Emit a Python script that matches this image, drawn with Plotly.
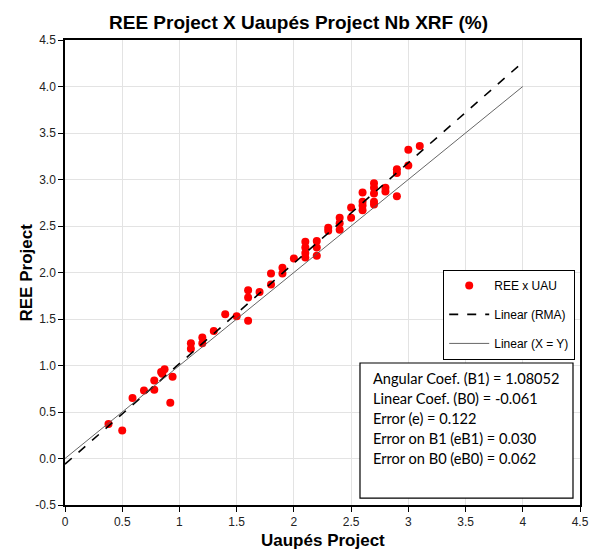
import plotly.graph_objects as go

# Nb XRF (%) — paired samples: Uaupés Project (x) vs REE Project (y)
uaupes = [0.38, 0.50, 0.59, 0.69, 0.78, 0.78, 0.84, 0.87, 0.85, 0.94, 0.92,
          1.10, 1.10, 1.20, 1.20, 1.30, 1.40, 1.50, 1.60, 1.60, 1.60, 1.70,
          1.80, 1.80, 1.90, 1.90, 2.00, 2.10, 2.10, 2.10, 2.10, 2.20, 2.20,
          2.20, 2.30, 2.30, 2.40, 2.40, 2.40, 2.50, 2.50, 2.60, 2.60, 2.60,
          2.60, 2.70, 2.70, 2.70, 2.70, 2.70, 2.80, 2.80, 2.90, 2.90, 2.90,
          3.00, 3.00, 3.10]
ree = [0.37, 0.30, 0.65, 0.73, 0.84, 0.74, 0.93, 0.96, 0.91, 0.88, 0.60,
       1.24, 1.18, 1.30, 1.24, 1.37, 1.55, 1.53, 1.81, 1.73, 1.48, 1.79,
       1.99, 1.87, 2.05, 1.99, 2.15, 2.33, 2.27, 2.21, 2.16, 2.34, 2.27,
       2.18, 2.48, 2.45, 2.59, 2.53, 2.46, 2.70, 2.59, 2.86, 2.76, 2.72,
       2.67, 2.96, 2.91, 2.85, 2.76, 2.73, 2.91, 2.87, 2.82, 3.11, 3.07,
       3.32, 3.15, 3.36]

# Reduced major axis fit statistics
b1 = 1.08052
b0 = -0.061
err_e = 0.122
err_b1 = 0.030
err_b0 = 0.062

line_x = [0, 4]
rma_y = [b0 + b1 * v for v in line_x]
xy_y = list(line_x)

x_ticks = [0, 0.5, 1, 1.5, 2, 2.5, 3, 3.5, 4, 4.5]
x_tick_text = ["0", "0.5", "1", "1.5", "2", "2.5", "3", "3.5", "4", "4.5"]
y_ticks = [-0.5, 0, 0.5, 1, 1.5, 2, 2.5, 3, 3.5, 4, 4.5]
y_tick_text = ["-0.5", "0.0", "0.5", "1.0", "1.5", "2.0", "2.5", "3.0", "3.5", "4.0", "4.5"]

stats_lines = [
    f"Angular Coef. (B1) = {b1:.5f}",
    f"Linear Coef. (B0) = {b0:.3f}",
    f"Error (e) = {err_e:.3f}",
    f"Error on B1 (eB1) = {err_b1:.3f}",
    f"Error on B0 (eB0) = {err_b0:.3f}",
]

ARIAL = "Liberation Sans, Arial, sans-serif"
CALIBRI = "Lato, Carlito, sans-serif"

fig = go.Figure()
fig.add_trace(go.Scatter(
    x=uaupes, y=ree, mode="markers", name="REE x UAU",
    marker=dict(color="#ff0000", size=8, line=dict(width=0)),
    legendgroup="a",
))
fig.add_trace(go.Scatter(
    x=line_x, y=rma_y, mode="lines", name="Linear (RMA)",
    line=dict(color="black", width=1.6, dash="dash"),
    legendgroup="b",
))
fig.add_trace(go.Scatter(
    x=line_x, y=xy_y, mode="lines", name="Linear (X = Y)",
    line=dict(color="#555555", width=0.9),
    legendgroup="c",
))

axis_common = dict(
    showgrid=True, gridcolor="#e3e3e3", gridwidth=1,
    showline=True, linecolor="black", linewidth=1.5, mirror=True,
    ticks="outside", ticklen=5, tickcolor="black", tickwidth=1,
    zeroline=False, automargin=False,
    tickfont=dict(family=ARIAL, size=12, color="#222222"),
)

fig.update_xaxes(range=[0, 4.5], tickvals=x_ticks, ticktext=x_tick_text, **axis_common)
fig.update_yaxes(range=[-0.5, 4.5], tickvals=y_ticks, ticktext=y_tick_text, **axis_common)

# Axis titles
fig.add_annotation(
    xref="paper", yref="paper", x=0.5, y=-0.0774, xanchor="center", yanchor="middle",
    text="<b>Uaupés Project</b>", showarrow=False,
    font=dict(family=ARIAL, size=17, color="black"),
)
fig.add_annotation(
    xref="paper", yref="paper", x=-0.0738, y=0.5, xanchor="center", yanchor="middle",
    text="<b>REE Project</b>", showarrow=False, textangle=-90,
    font=dict(family=ARIAL, size=17, color="black"),
)

# Statistics box
fig.add_shape(type="rect", xref="paper", yref="paper",
              x0=0.5728, x1=0.9864, y0=0.015, y1=0.3054,
              line=dict(color="black", width=1.2), fillcolor="white", layer="above")
for i, txt in enumerate(stats_lines):
    fig.add_annotation(
        xref="paper", yref="paper", x=0.5935, y=0.273 - i * 0.043,
        xanchor="left", yanchor="middle", text=txt, showarrow=False,
        font=dict(family=CALIBRI, size=14.6, color="black"),
    )

fig.update_layout(
    width=597, height=550,
    margin=dict(l=65, r=17, t=40, b=45),
    paper_bgcolor="white", plot_bgcolor="white",
    title=dict(text="<b>REE Project X Uaupés Project Nb XRF (%)</b>",
               font=dict(family=ARIAL, size=19, color="black"),
               x=0.5, xanchor="center", y=0.96, yanchor="middle"),
    showlegend=True,
    legend=dict(
        x=0.734, y=0.506, xanchor="left", yanchor="top",
        bgcolor="white", bordercolor="black", borderwidth=1.2,
        font=dict(family=ARIAL, size=12, color="black"),
        tracegroupgap=10, itemwidth=40,
    ),
)

fig.write_html("out.html")
